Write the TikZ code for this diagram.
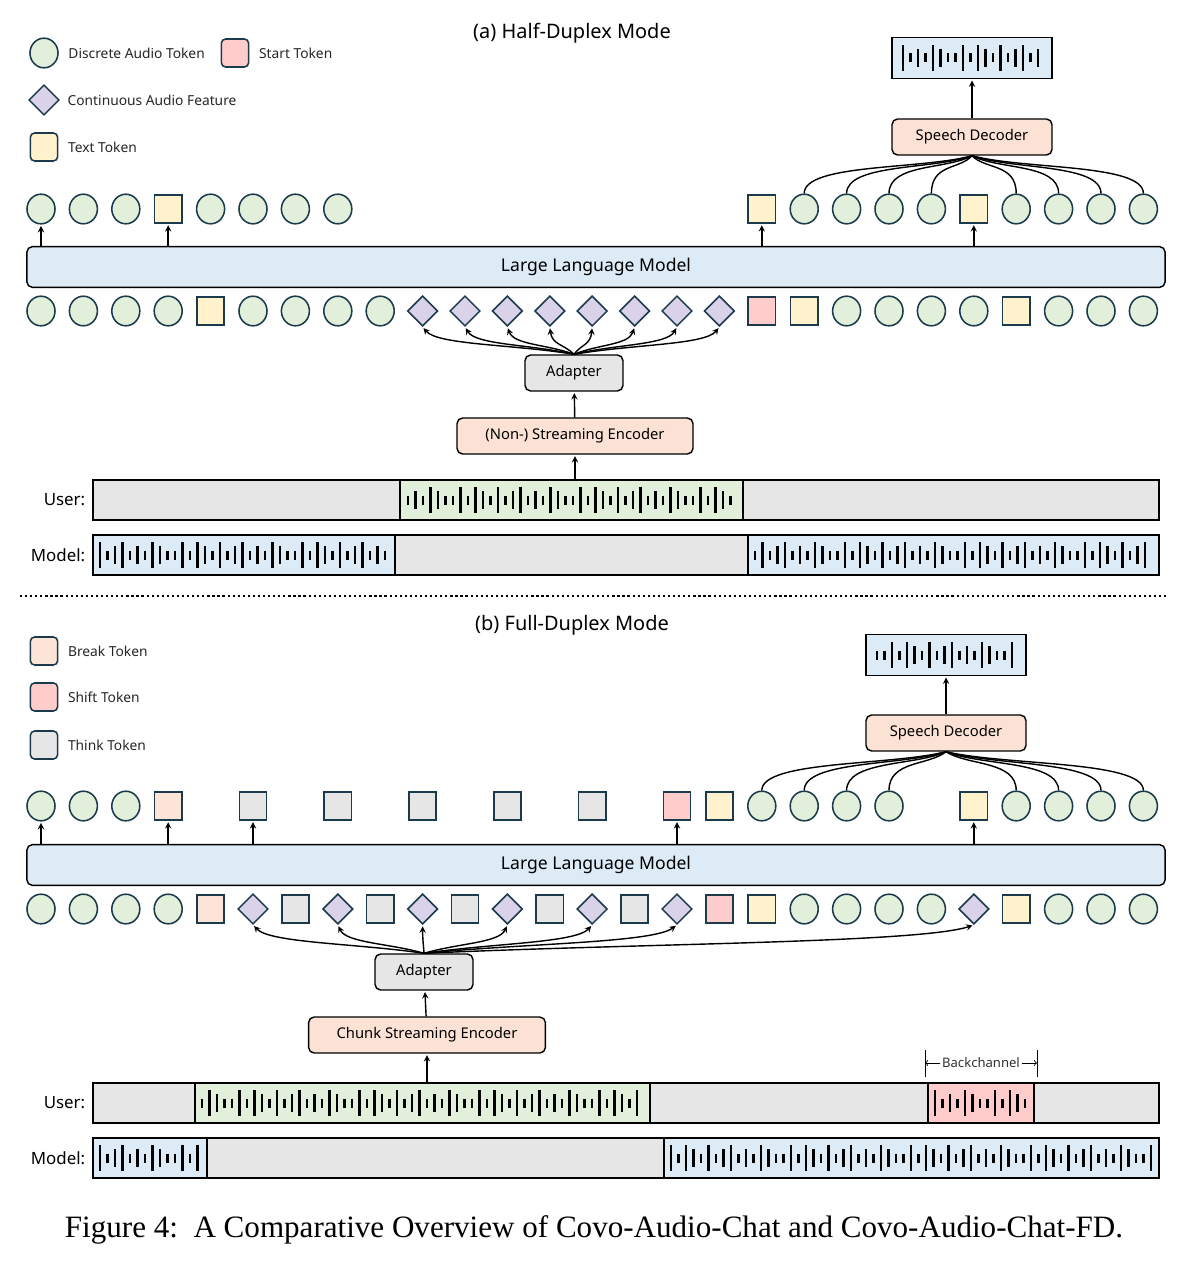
\documentclass[tikz,border=0pt]{standalone}
\usepackage{fontspec}
\setmainfont{Liberation Serif}
\setsansfont{Noto Sans}
\usepackage{tikz}
\usetikzlibrary{shapes.geometric, arrows, positioning, fit, calc}

\definecolor{tokline}{HTML}{1B3A4B}
\definecolor{discfill}{HTML}{E2EFDA}
\definecolor{contfill}{HTML}{D9D2E9}
\definecolor{textfill}{HTML}{FFF2CC}
\definecolor{startfill}{HTML}{FFCCCC}
\definecolor{breakfill}{HTML}{FCE4D6}
\definecolor{thinkfill}{HTML}{E7E6E6}
\definecolor{llmfill}{HTML}{DDEBF7}
\definecolor{codecfill}{HTML}{FBE2D5}
\definecolor{barfill}{HTML}{E7E6E6}

% waveform bars between x1 and x2 around y
\newcommand{\wavebars}[3]{%
  \pgfmathtruncatemacro{\wbn}{floor((#2-#1)/7.5)}%
  \foreach \j in {0,...,\wbn}{%
    \pgfmathtruncatemacro{\wbi}{mod(\j+#1,16)}%
    \pgfmathsetmacro{\wbh}{{4.5,13,9,4.5,13,4.5,9,13,4.5,9,4.5,13,9,4.5,4.5,13}[\wbi]}%
    \draw[wavebar] ({#1+\j*7.5},{#3-\wbh}) -- ({#1+\j*7.5},{#3+\wbh});
  }%
}

\begin{document}
\begin{tikzpicture}[
    x=0.025cm, y=-0.025cm,
    font=\sffamily,
    tokd/.style={ellipse, draw=tokline, line width=1.1pt, fill=discfill, minimum width=0.7cm, minimum height=0.74cm, inner sep=0pt},
    tokc/.style={diamond, draw=tokline, line width=1.1pt, fill=contfill, minimum width=0.76cm, minimum height=0.76cm, inner sep=0pt},
    toksq/.style={rectangle, draw=tokline, line width=1.1pt, minimum width=0.68cm, minimum height=0.7cm, inner sep=0pt},
    tokt/.style={toksq, fill=textfill},
    toks/.style={toksq, fill=startfill},
    tokb/.style={toksq, fill=breakfill},
    tokk/.style={toksq, fill=thinkfill},
    lgsq/.style={rounded corners=3pt},
    lgtxt/.style={font=\sffamily\fontsize{9.8}{11}\selectfont, inner sep=1pt, text=black!85},
    title/.style={font=\sffamily\fontsize{14.2}{16}\selectfont},
    block/.style={draw, line width=1pt, rounded corners=4pt, inner sep=0pt, minimum height=0.9cm, font=\sffamily\fontsize{10.5}{12}\selectfont},
    llm/.style={block, fill=llmfill, minimum width=28.45cm, minimum height=1.02cm, font=\sffamily\fontsize{12.5}{14}\selectfont},
    codec/.style={block, fill=codecfill},
    adapt/.style={block, fill=thinkfill, minimum width=2.45cm},
    wavebox/.style={draw, line width=1pt, fill=llmfill, minimum width=4cm, minimum height=1.02cm, inner sep=0pt},
    barseg/.style={draw, line width=1pt, inner sep=0pt},
    wavebar/.style={line width=1.5pt},
    lbl/.style={font=\sffamily\fontsize{12}{14}\selectfont, inner sep=2pt},
    arrow/.style={line width=1pt,->,>=stealth, shorten >=1pt},
    curve/.style={line width=1pt}
]
\useasboundingbox (0,0) rectangle (1190,1262);

%% ---------------- (a) Half-Duplex Mode ----------------
\node[title] (titlea) at (572,33) {(a) Half-Duplex Mode};

% legend
\node[tokd] (lgdisc) at (44,53) {};
\node[lgtxt, right=0.2cm of lgdisc] (lgdisct) {Discrete Audio Token};
\node[toks, lgsq] (lgstart) at (235,53) {};
\node[lgtxt, right=0.2cm of lgstart] (lgstartt) {Start Token};
\node[tokc] (lgcont) at (44,100) {};
\node[lgtxt, right=0.15cm of lgcont] (lgcontt) {Continuous Audio Feature};
\node[tokt, lgsq] (lgtext) at (44,147) {};
\node[lgtxt, right=0.2cm of lgtext] (lgtextt) {Text Token};

% output tokens
\foreach \k/\t in {0/d,1/d,2/d,3/t,4/d,5/d,6/d,7/d,17/t,18/d,19/d,20/d,21/d,22/t,23/d,24/d,25/d,26/d}
  \node[tok\t] (ao\k) at ({41+42.4*\k},209) {};

% input tokens
\foreach \k/\t in {0/d,1/d,2/d,3/d,4/t,5/d,6/d,7/d,8/d,9/c,10/c,11/c,12/c,13/c,14/c,15/c,16/c,17/s,18/t,19/d,20/d,21/d,22/d,23/t,24/d,25/d,26/d}
  \node[tok\t] (ai\k) at ({41+42.4*\k},311) {};

% model blocks
\node[llm] (llma) at (596,267) {Large Language Model};
\node[codec, minimum width=4cm] (deca) at (972,137) {Speech Decoder};
\node[wavebox] (outa) at (972,58) {};
\wavebars{903}{1045}{58}
\node[adapt] (adpa) at (574,373) {Adapter};
\node[codec, minimum width=5.9cm] (enca) at (575,436) {(Non-) Streaming Encoder};

% user / model streams
\node[barseg, fill=barfill, fit={(93,480) (1159,520)}] (usra) {};
\node[barseg, fill=discfill, fit={(400,480) (743,520)}] (usrga) {};
\wavebars{408}{736}{500}
\node[barseg, fill=barfill, fit={(93,535) (1159,575)}] (mdla) {};
\node[barseg, fill=llmfill, fit={(93,535) (395,575)}] (mdlba) {};
\wavebars{100}{388}{555}
\node[barseg, fill=llmfill, fit={(748,535) (1159,575)}] (mdlca) {};
\wavebars{755}{1152}{555}
\node[lbl, left=0.1cm of usra] (usrlbla) {User:};
\node[lbl, left=0.1cm of mdla] (mdllbla) {Model:};

% connectors
\foreach \k in {0,3,17,22}
  \draw[arrow] (llma.north -| ao\k) -- (ao\k.south);
\draw[arrow] (deca) -- (outa);
\foreach \k in {18,19,20,21,23,24,25,26}{
  \pgfmathsetmacro{\dx}{41+42.4*\k-972}
  \draw[curve] (deca.south) .. controls +({0.3*\dx},14) and +(0,-30) .. (ao\k.north);
}
\foreach \k in {9,...,16}{
  \pgfmathsetmacro{\dx}{41+42.4*\k-574}
  \draw[arrow] (adpa.north) .. controls +({0.4*\dx},-10) and +({-0.1*\dx},18) .. (ai\k.south);
}
\draw[arrow] (enca) -- (adpa);
\draw[arrow] (enca.south |- usrga.north) -- (enca.south);

% separator
\draw[line width=1.3pt, dash pattern=on 1.6pt off 2pt] (20,596) -- (1168,596);

%% ---------------- (b) Full-Duplex Mode ----------------
\node[title] (titleb) at (572,625) {(b) Full-Duplex Mode};

% legend
\node[tokb, lgsq] (lgbreak) at (44,651) {};
\node[lgtxt, right=0.2cm of lgbreak] (lgbreakt) {Break Token};
\node[toks, lgsq] (lgshift) at (44,697) {};
\node[lgtxt, right=0.2cm of lgshift] (lgshiftt) {Shift Token};
\node[tokk, lgsq] (lgthink) at (44,745) {};
\node[lgtxt, right=0.2cm of lgthink] (lgthinkt) {Think Token};

% output tokens
\foreach \k/\t in {0/d,1/d,2/d,3/b,5/k,7/k,9/k,11/k,13/k,15/s,16/t,17/d,18/d,19/d,20/d,22/t,23/d,24/d,25/d,26/d}
  \node[tok\t] (bo\k) at ({41+42.4*\k},806) {};

% input tokens
\foreach \k/\t in {0/d,1/d,2/d,3/d,4/b,5/c,6/k,7/c,8/k,9/c,10/k,11/c,12/k,13/c,14/k,15/c,16/s,17/t,18/d,19/d,20/d,21/d,22/c,23/t,24/d,25/d,26/d}
  \node[tok\t] (bi\k) at ({41+42.4*\k},909) {};

% model blocks
\node[llm] (llmb) at (596,865) {Large Language Model};
\node[codec, minimum width=4cm] (decb) at (946,733) {Speech Decoder};
\node[wavebox] (outb) at (946,655) {};
\wavebars{877}{1019}{655}
\node[adapt] (adpb) at (424,972) {Adapter};
\node[codec, minimum width=5.92cm] (encb) at (427,1035) {Chunk Streaming Encoder};

% user / model streams
\node[barseg, fill=barfill, fit={(93,1083) (1159,1123)}] (usrb) {};
\node[barseg, fill=discfill, fit={(195,1083) (650,1123)}] (usrgb) {};
\wavebars{202}{643}{1103}
\node[barseg, fill=startfill, fit={(928,1083) (1034,1123)}] (usrpb) {};
\wavebars{935}{1027}{1103}
\node[barseg, fill=barfill, fit={(93,1138) (1159,1178)}] (mdlb) {};
\node[barseg, fill=llmfill, fit={(93,1138) (207,1178)}] (mdlbb) {};
\wavebars{100}{200}{1158}
\node[barseg, fill=llmfill, fit={(664,1138) (1159,1178)}] (mdlcb) {};
\wavebars{671}{1152}{1158}
\node[lbl, left=0.1cm of usrb] (usrlblb) {User:};
\node[lbl, left=0.1cm of mdlb] (mdllblb) {Model:};

% backchannel marker
\coordinate (bcl) at (925,1063);
\coordinate (bcr) at (1037,1063);
\draw[line width=0.6pt] (925,1050) -- (925,1077);
\draw[line width=0.6pt] (1037,1050) -- (1037,1077);
\node[font=\sffamily\fontsize{9.3}{10}\selectfont, inner sep=1pt, text=black!80] (bct) at (981,1063) {Backchannel};
\draw[line width=0.6pt, ->] (bct.west) -- (bcl);
\draw[line width=0.6pt, ->] (bct.east) -- (bcr);

% connectors
\foreach \k in {0,3,5,15,22}
  \draw[arrow] (llmb.north -| bo\k) -- (bo\k.south);
\draw[arrow] (decb) -- (outb);
\foreach \k in {17,18,19,20,23,24,25,26}{
  \pgfmathsetmacro{\dx}{41+42.4*\k-946}
  \draw[curve] (decb.south) .. controls +({0.3*\dx},14) and +(0,-30) .. (bo\k.north);
}
\foreach \k in {5,7,9,11,13,15,22}{
  \pgfmathsetmacro{\dx}{41+42.4*\k-424}
  \draw[arrow] (adpb.north) .. controls +({0.4*\dx},-10) and +({-0.1*\dx},18) .. (bi\k.south);
}
\draw[arrow] (encb) -- (adpb);
\draw[arrow] (encb.south |- usrgb.north) -- (encb.south);

% caption
\node[font=\rmfamily\fontsize{22.1}{25}\selectfont] (capt) at (594,1230)
  {Figure 4:\ \ A Comparative Overview of Covo-Audio-Chat and Covo-Audio-Chat-FD.};
\end{tikzpicture}
\end{document}
